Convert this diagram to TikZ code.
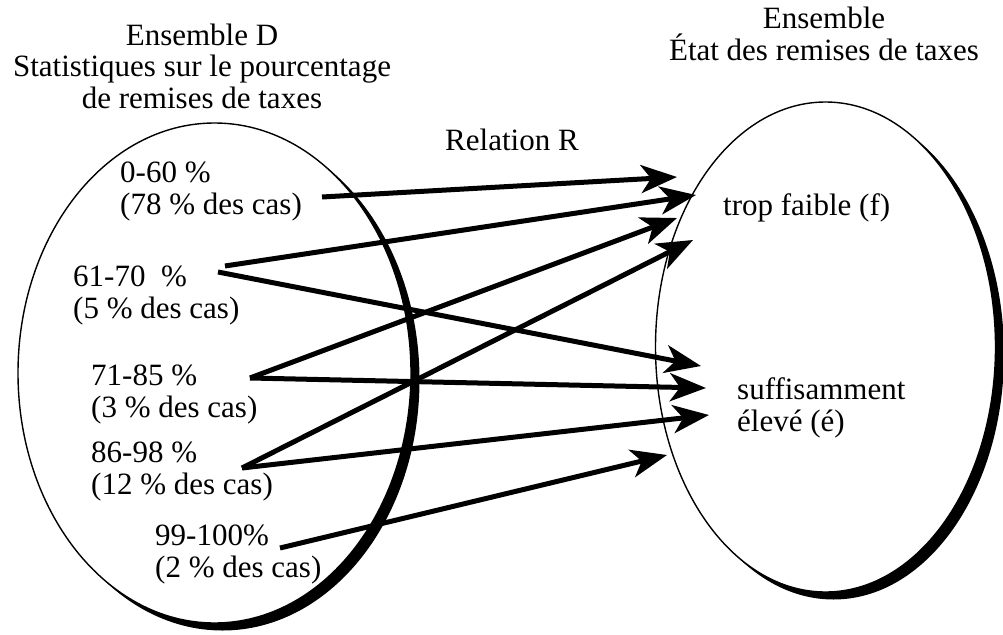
\documentclass[tikz,border=0pt]{standalone}
\usepackage{fontspec}
\setmainfont{Liberation Serif}
\usetikzlibrary{positioning, calc, arrows.meta, shapes.geometric}

\begin{document}
\begin{tikzpicture}[x=1pt, y=-1pt,
	every node/.style={font=\fontsize{31}{31.5}\selectfont, inner sep=0pt},
	ens/.style={ellipse, draw, line width=1.4pt, fill=white},
	rel/.style={-{Stealth[length=36pt, width=28pt, inset=10pt]}, line width=5pt},
	lab/.style={anchor=base west, align=left}]
	\useasboundingbox (0,0) rectangle (1003,634);
	
	% shadows, then the two sets
	\fill (222.5,380) ellipse [x radius=197, y radius=250.5];
	\fill (833.5,354) ellipse [x radius=170.5, y radius=245.5];
	\node[ens, minimum width=393pt, minimum height=500pt](setD) at (214.5,373){};
	\node[ens, minimum width=340pt, minimum height=490pt](setE) at (825.5,347){};
	
	\node[align=center, anchor=base](titleD) at (202,108){Ensemble D\\Statistiques sur le pourcentage\\de remises de taxes};
	\node[align=center, anchor=base](titleE) at (824,60){Ensemble\\État des remises de taxes};
	\node[anchor=base west](relR) at (445,150){Relation R};
	
	\node[lab](d1) at (120,214){0-60 \%\\(78 \% des cas)};
	\node[lab](d2) at (73,318){61-70\ \ \%\\(5 \% des cas)};
	\node[lab](d3) at (91,417){71-85 \%\\(3 \% des cas)};
	\node[lab](d4) at (91,494){86-98 \%\\(12 \% des cas)};
	\node[lab](d5) at (155,577){99-100\%\\(2 \% des cas)};
	\node[lab](f) at (723,215){trop faible (f)};
	\node[lab](e) at (737,431){suffisamment\\élevé (é)};
	
	\coordinate (s1) at (322,197);
	\coordinate (s2a) at (225,266);
	\coordinate (s2b) at (218,272);
	\coordinate (s3) at (250,378);
	\coordinate (s4) at (242,468);
	\coordinate (s5) at (280,548);
	\coordinate (t1) at (677,177);
	\coordinate (t2) at (696,195);
	\coordinate (t3) at (677,218);
	\coordinate (t4) at (693,240);
	\coordinate (u1) at (701,366);
	\coordinate (u2) at (706,388);
	\coordinate (u3) at (709,415);
	\coordinate (u4) at (667,455);
	
	\draw[rel] (s1) -- (t1);
	\draw[rel] (s2a) -- (t2);
	\draw[rel] (s2b) -- (u1);
	\draw[rel] (s3) -- (t3);
	\draw[rel] (s3) -- (u2);
	\draw[rel] (s4) -- (t4);
	\draw[rel] (s4) -- (u3);
	\draw[rel] (s5) -- (u4);
\end{tikzpicture}
\end{document}
